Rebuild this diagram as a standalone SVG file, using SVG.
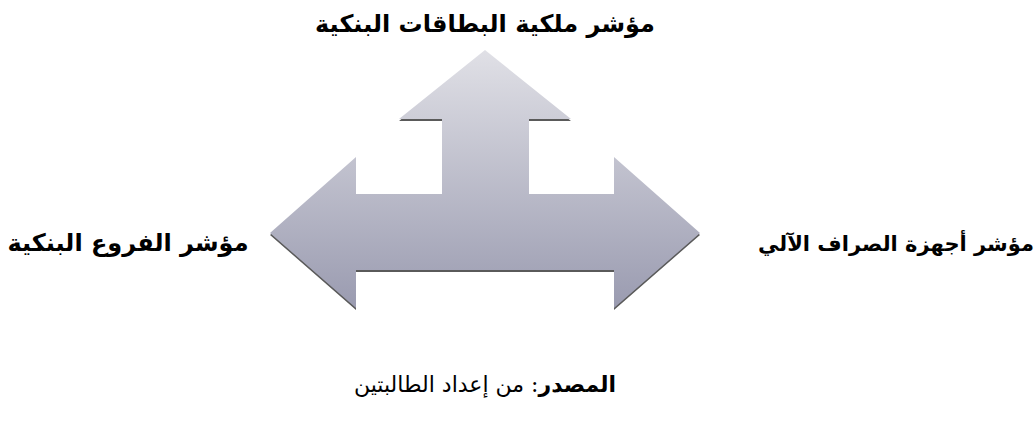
<svg xmlns="http://www.w3.org/2000/svg" width="1036" height="423" viewBox="0 0 1036 423">
<style>
.t{font-family:"DejaVu Serif","Liberation Serif","DejaVu Sans",serif;font-weight:bold;font-size:24px;fill:#000}
.s{font-family:"DejaVu Serif","Liberation Serif","DejaVu Sans",serif;font-size:22px;fill:#000}
</style>
<defs>
<linearGradient id="g" x1="0" y1="0" x2="0" y2="1">
<stop offset="0" stop-color="#e0e0e6"/>
<stop offset="1" stop-color="#9a9bb0"/>
</linearGradient>
<path id="shape" d="M485,50 L571,119 L529,119 L529,194 L614,194 L614,157 L700,233 L614,308 L614,270 L356,270 L356,308 L270,233 L356,157 L356,194 L442,194 L442,119 L399,119 Z"/>
</defs>
<g id="arrow">
<use href="#shape" fill="#5a5a5a" transform="translate(0,2)"/>
<use href="#shape" fill="url(#g)"/>
</g>
<g id="top"><text class="t" x="485" y="32" text-anchor="middle" direction="rtl">مؤشر ملكية البطاقات البنكية</text></g>
<g id="left"><text class="t" x="128" y="251" text-anchor="middle" direction="rtl">مؤشر الفروع البنكية</text></g>
<g id="right"><text class="t" x="896" y="251" text-anchor="middle" direction="rtl" style="font-size:21px">مؤشر أجهزة الصراف الآلي</text></g>
<g id="source"><text class="s" x="485" y="392" text-anchor="middle" direction="rtl"><tspan font-weight="bold">المصدر</tspan>: من إعداد الطالبتين</text></g>
</svg>
